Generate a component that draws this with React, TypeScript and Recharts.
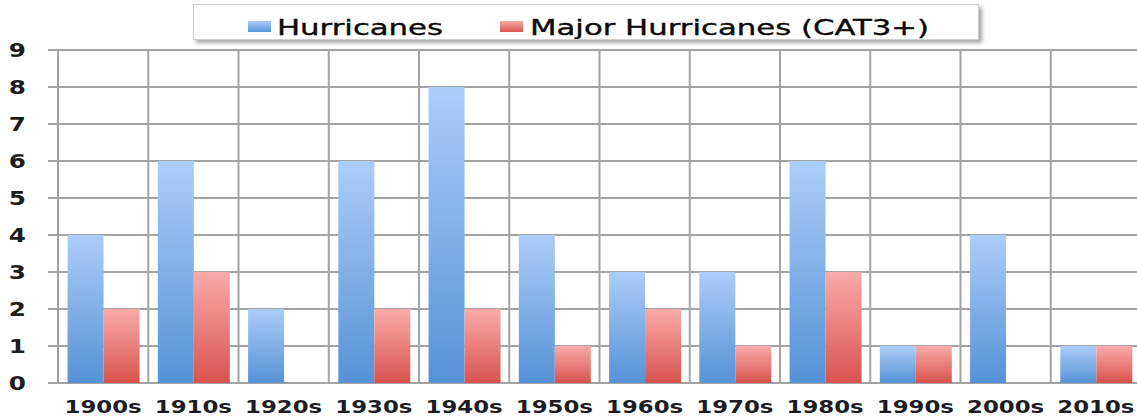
import React from 'react';
import { BarChart, Bar, XAxis, YAxis, CartesianGrid, Legend } from 'recharts';

const decades = ['1900s', '1910s', '1920s', '1930s', '1940s', '1950s', '1960s', '1970s', '1980s', '1990s', '2000s', '2010s'];
const hurricanes = [4, 6, 2, 6, 8, 4, 3, 3, 6, 1, 4, 1];
const majorHurricanes = [2, 3, 0, 2, 2, 1, 2, 1, 3, 1, 0, 1];
const yTicks = [0, 1, 2, 3, 4, 5, 6, 7, 8, 9];
const boundaryTicks = [0, 1, 2, 3, 4, 5, 6, 7, 8, 9, 10, 11, 12];

const data = decades.map((d, i) => ({
  decade: d,
  idx: i,
  hurricanes: hurricanes[i],
  major: majorHurricanes[i],
}));

const FONT = '"DejaVu Sans", Verdana, sans-serif';
const GRID = '#a3a3a3';

const YTick = (props: any) => {
  const { x, y, payload } = props;
  return (
    <text
      transform={`translate(${x},${y}) scale(1.3,1)`}
      textAnchor="end"
      dy="0.36em"
      fontSize={19}
      fontWeight="bold"
      fontFamily={FONT}
      fill="#1c1c1c"
    >
      {payload.value}
    </text>
  );
};

const XTick = (props: any) => {
  const { x, y, payload } = props;
  return (
    <text
      transform={`translate(${x},${y}) scale(1.27,1)`}
      textAnchor="middle"
      dy="0.71em"
      fontSize={18}
      fontWeight="bold"
      fontFamily={FONT}
      fill="#1c1c24"
    >
      {payload.value}
    </text>
  );
};

const EmptyTick = () => <g />;

const legendPos = [
  { sq: 54, tx: 83 },
  { sq: 306, tx: 336 },
];
const legendGrad = ['url(#legBlue)', 'url(#legRed)'];

const LegendBox = (props: any) => {
  const payload = props.payload || [];
  return (
    <div
      style={{
        width: 786,
        height: 36,
        background: '#fff',
        border: '1px solid #d0d0d0',
        boxShadow: '3px 3px 4px rgba(0,0,0,0.35)',
        boxSizing: 'border-box',
      }}
    >
      <svg width={784} height={34} style={{ display: 'block' }}>
        <defs>
          <linearGradient id="legBlue" x1="0" y1="0" x2="0" y2="1">
            <stop offset="0%" stopColor="#a9ccf7" />
            <stop offset="100%" stopColor="#5b95d8" />
          </linearGradient>
          <linearGradient id="legRed" x1="0" y1="0" x2="0" y2="1">
            <stop offset="0%" stopColor="#f7a9a9" />
            <stop offset="100%" stopColor="#da5650" />
          </linearGradient>
        </defs>
        {payload.map((entry: any, i: number) => (
          <g key={entry.value}>
            <rect x={legendPos[i].sq} y={16} width={23} height={11} fill={legendGrad[i]} />
            <text
              transform={`translate(${legendPos[i].tx},30) scale(1.5,1)`}
              fontSize={20.5}
              fontFamily={FONT}
              fill="#0a0a0a"
              stroke="#0a0a0a"
              strokeWidth={0.35}
            >
              {entry.value}
            </text>
          </g>
        ))}
      </svg>
    </div>
  );
};

const verticalLines = (args: any) => {
  const { offset } = args;
  return boundaryTicks.map((i) => offset.left + (i * offset.width) / decades.length);
};

export default function App() {
  return (
    <div
      style={{
        position: 'fixed',
        left: 0,
        top: 0,
        width: 1137,
        height: 418,
        overflow: 'hidden',
        background: '#fff',
      }}
    >
      <BarChart
        width={1150}
        height={418}
        data={data}
        margin={{ top: 50, right: 9, bottom: 0, left: 0 }}
        barCategoryGap="10.6%"
        barGap={0}
        style={{ fontFamily: FONT }}
      >
        <defs>
          <linearGradient id="gBlue" x1="0" y1="0" x2="0" y2="1">
            <stop offset="0%" stopColor="#abcdf8" />
            <stop offset="100%" stopColor="#5692d6" />
          </linearGradient>
          <linearGradient id="gRed" x1="0" y1="0" x2="0" y2="1">
            <stop offset="0%" stopColor="#f9abaa" />
            <stop offset="100%" stopColor="#d8534d" />
          </linearGradient>
        </defs>
        <CartesianGrid
          stroke={GRID}
          strokeWidth={2}
          verticalCoordinatesGenerator={verticalLines}
        />
        <XAxis
          xAxisId="grid"
          type="number"
          dataKey="idx"
          domain={[0, 12]}
          ticks={boundaryTicks}
          interval={0}
          height={0}
          tick={<EmptyTick />}
          tickSize={5}
          axisLine={{ stroke: GRID, strokeWidth: 2 }}
          tickLine={{ stroke: GRID, strokeWidth: 2 }}
          allowDataOverflow
        />
        <XAxis
          xAxisId="cat"
          dataKey="decade"
          height={35}
          interval={0}
          axisLine={false}
          tickLine={false}
          tickSize={5}
          tickMargin={12}
          tick={<XTick />}
        />
        <YAxis
          domain={[0, 9]}
          ticks={yTicks}
          interval={0}
          width={58}
          tickSize={10}
          tickMargin={22}
          axisLine={{ stroke: GRID, strokeWidth: 2 }}
          tickLine={{ stroke: GRID, strokeWidth: 2 }}
          tick={<YTick />}
        />
        <Legend
          layout="horizontal"
          verticalAlign="middle"
          align="center"
          width={786}
          height={36}
          wrapperStyle={{ top: 4, left: 193, width: 786, height: 36 }}
          content={<LegendBox />}
        />
        <Bar xAxisId="cat" dataKey="hurricanes" name="Hurricanes" fill="url(#gBlue)" isAnimationActive={false} />
        <Bar xAxisId="cat" dataKey="major" name="Major Hurricanes (CAT3+)" fill="url(#gRed)" isAnimationActive={false} />
      </BarChart>
    </div>
  );
}
